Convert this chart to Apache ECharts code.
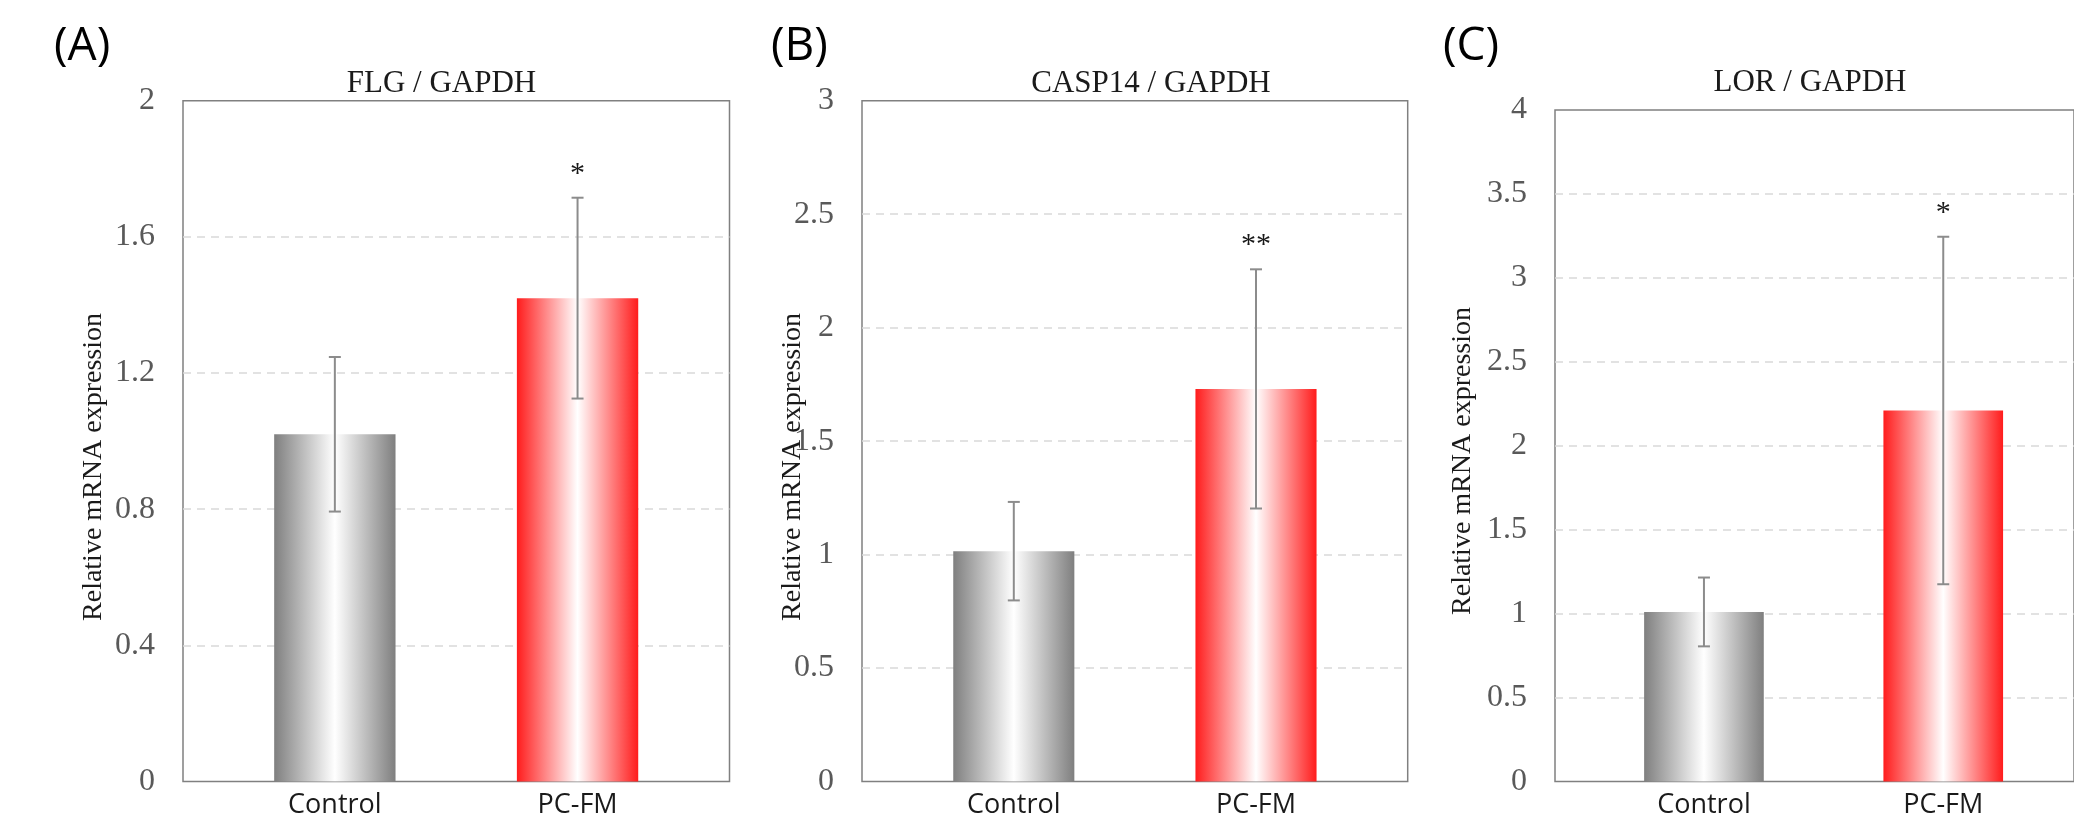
<!DOCTYPE html>
<html>
<head>
<meta charset="utf-8">
<script src="https://cdn.jsdelivr.net/npm/echarts@6/dist/echarts.min.js"></script>
<style>
  html, body { margin: 0; padding: 0; background: #ffffff; }
  #chart { width: 2074px; height: 834px; }
</style>
</head>
<body>
<div id="chart"></div>
<script>
// ---- data ----
const categories = ['Control', 'PC-FM'];
const panelLetters = ['(A)', '(B)', '(C)'];
const panelTitles = ['FLG / GAPDH', 'CASP14 / GAPDH', 'LOR / GAPDH'];
const yAxisTitle = 'Relative mRNA expression';

const flgMean = [1.02, 1.42];
const flgErr = [0.227, 0.295];
const flgStars = ['', '*'];

const casp14Mean = [1.015, 1.73];
const casp14Err = [0.217, 0.527];
const casp14Stars = ['', '**'];

const lorMean = [1.01, 2.21];
const lorErr = [0.205, 1.035];
const lorStars = ['', '*'];

const yMax = [2, 3, 4];
const yInterval = [0.4, 0.5, 0.5];

// ---- layout / styles ----
const layout = [
  { box: { left: 183, top: 100.7, width: 546.5, height: 680.8 }, bars: { left: 213.5, width: 485.4 },
    letter: [54, 47], title: [441.5, 84], ytitle: [94, 467] },
  { box: { left: 862, top: 100.7, width: 545.7, height: 680.8 }, bars: { left: 892.7, width: 484.4 },
    letter: [771, 47], title: [1151, 84], ytitle: [792.5, 467] },
  { box: { left: 1555, top: 110, width: 620, height: 671.5 }, bars: { left: 1584.3, width: 478.6 },
    letter: [1443, 47], title: [1810, 82.5], ytitle: [1462.5, 461] }
];
const panels = [
  { mean: flgMean, err: flgErr, stars: flgStars },
  { mean: casp14Mean, err: casp14Err, stars: casp14Stars },
  { mean: lorMean, err: lorErr, stars: lorStars }
];
const barColors = ['#7f7f7f', '#ff1c1c'];
function grad(c) {
  return { type: 'linear', x: 0, y: 0, x2: 1, y2: 0,
    colorStops: [{ offset: 0, color: c }, { offset: 0.5, color: '#ffffff' }, { offset: 1, color: c }] };
}

const grid = [], xAxis = [], yAxis = [], series = [], graphic = [];
panels.forEach((p, i) => {
  const L = layout[i];
  // box grid
  grid.push({ left: L.box.left, top: L.box.top, width: L.box.width, height: L.box.height,
    show: true, borderColor: '#808080', borderWidth: 1.5, backgroundColor: 'transparent' });
  // bars grid
  grid.push({ left: L.bars.left, top: L.box.top, width: L.bars.width, height: L.box.height, show: false });

  xAxis.push({ gridIndex: 2 * i, type: 'category', data: categories, show: false });
  xAxis.push({ gridIndex: 2 * i + 1, type: 'category', data: categories,
    axisLine: { show: false }, axisTick: { show: false },
    axisLabel: { fontFamily: 'Open Sans', fontSize: 27, color: '#1a1a1a', margin: 10 } });

  yAxis.push({ gridIndex: 2 * i, type: 'value', min: 0, max: yMax[i], interval: yInterval[i],
    axisLine: { show: false }, axisTick: { show: false },
    axisLabel: { fontFamily: 'Liberation Serif', fontSize: 32, color: '#595959', margin: 28 },
    splitLine: { show: true, showMinLine: false, showMaxLine: false,
      lineStyle: { type: [8, 6], color: '#d9d9d9', width: 1.5 } } });
  yAxis.push({ gridIndex: 2 * i + 1, type: 'value', min: 0, max: yMax[i], show: false,
    splitLine: { show: false } });

  series.push({
    type: 'bar', xAxisIndex: 2 * i + 1, yAxisIndex: 2 * i + 1,
    barWidth: '50%',
    data: p.mean.map((v, k) => ({ value: v, itemStyle: { color: grad(barColors[k]) } })),
    silent: true, z: 2
  });
  const stars = p.stars;
  series.push({
    type: 'custom', xAxisIndex: 2 * i + 1, yAxisIndex: 2 * i + 1, z: 5, silent: true,
    data: p.mean.map((v, k) => [k, v, p.err[k]]),
    renderItem: function (params, api) {
      const x = api.value(0), m = api.value(1), e = api.value(2);
      const top = api.coord([x, m + e]);
      const bot = api.coord([x, m - e]);
      const cx = top[0], hw = 6;
      const st = { stroke: '#8c8c8c', lineWidth: 2 };
      const children = [
        { type: 'line', shape: { x1: cx, y1: top[1], x2: cx, y2: bot[1] }, style: st },
        { type: 'line', shape: { x1: cx - hw, y1: top[1], x2: cx + hw, y2: top[1] }, style: st },
        { type: 'line', shape: { x1: cx - hw, y1: bot[1], x2: cx + hw, y2: bot[1] }, style: st }
      ];
      const s = stars[params.dataIndex];
      if (s) {
        children.push({ type: 'text', x: cx, y: top[1] - 24,
          style: { text: s, font: '30px "Liberation Serif"', fill: '#1a1a1a', align: 'center', verticalAlign: 'middle' } });
      }
      return { type: 'group', children: children };
    }
  });

  graphic.push({ type: 'text', x: L.letter[0], y: L.letter[1],
    style: { text: panelLetters[i], font: '46px "Open Sans"', fill: '#000000', align: 'left', verticalAlign: 'middle' } });
  graphic.push({ type: 'text', x: L.title[0], y: L.title[1],
    style: { text: panelTitles[i], font: '31px "Liberation Serif"', fill: '#1a1a1a', align: 'center', verticalAlign: 'middle' } });
  graphic.push({ type: 'text', x: L.ytitle[0], y: L.ytitle[1], rotation: Math.PI / 2,
    style: { text: yAxisTitle, font: '28px "Liberation Serif"', fill: '#1a1a1a', align: 'center', verticalAlign: 'middle' } });
});

const chart = echarts.init(document.getElementById('chart'), null, { renderer: 'canvas' });
chart.setOption({
  animation: false,
  backgroundColor: '#ffffff',
  grid: grid, xAxis: xAxis, yAxis: yAxis, series: series, graphic: graphic
});
</script>
</body>
</html>
